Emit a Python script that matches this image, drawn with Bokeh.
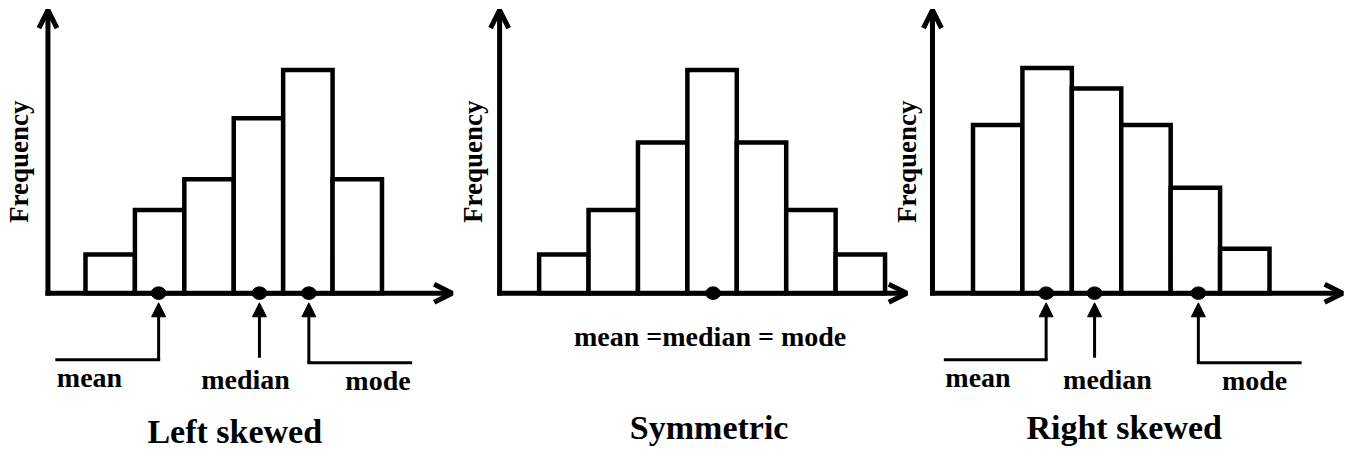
import numpy as np
from bokeh.plotting import figure
from bokeh.models import Range1d, Arrow, OpenHead, NormalHead
from bokeh.core.properties import value
from bokeh.embed import file_html
from bokeh.resources import INLINE

# ---------------- data ----------------
left_freq = [4.0, 8.6, 11.8, 18.1, 23.1, 11.8]
sym_freq = [4.0, 8.6, 15.6, 23.1, 15.6, 8.6, 4.0]
right_freq = [17.4, 23.3, 21.2, 17.4, 10.9, 4.6]

stat_names = ["mean", "median", "mode"]
left_stats = [1.98, 4.02, 5.02]
sym_stats = [4.02, 4.02, 4.02]
right_stats = [1.98, 2.96, 5.06]

titles = ["Left skewed", "Symmetric", "Right skewed"]
y_label = "Frequency"
sym_label = "mean =median = mode"

# ---------------- layout ----------------
FONT = value("Liberation Serif")
BLACK = "black"

p = figure(width=1354, height=452, x_range=Range1d(0, 27.4), y_range=Range1d(-16.5, 30.3),
           output_backend="svg", toolbar_location=None, min_border=0,
           x_axis_location=None, y_axis_location=None, outline_line_color=None)
p.xgrid.visible = False
p.ygrid.visible = False

LBL_SHIFT = 0.95   # baseline correction for 28px labels
TTL_SHIFT = 1.1    # baseline correction for titles

panels = [
    dict(off=1.22, freq=left_freq, stats=left_stats, title=titles[0], axis_x=-0.26, tip=7.92,
         title_x=3.52, title_y=-15.4,
         labels=[(-2.06, "left", -9.7), (-0.28, "center", -9.9), (2.06, "right", -10.0)],
         legs=[-2.06, 0, 2.06], stems=[-6.9, -6.7, -7.2], single=False),
    dict(off=10.4, freq=sym_freq, stats=sym_stats, title=titles[1], axis_x=-0.30, tip=7.94,
         title_x=3.94, title_y=-15.0, single=True),
    dict(off=19.18, freq=right_freq, stats=right_stats, title=titles[2], axis_x=-0.32, tip=7.98,
         title_x=3.56, title_y=-15.0,
         labels=[(-2.04, "left", -9.7), (0.26, "center", -9.9), (1.8, "right", -10.0)],
         legs=[-2.04, 0, 2.06], stems=[-6.9, -6.7, -7.2], single=False),
]

for pn in panels:
    off = pn["off"]
    freq = pn["freq"]
    n = len(freq)
    idx = np.arange(1, n + 1)
    p.quad(left=off + idx - 0.5, right=off + idx + 0.5, bottom=0, top=freq,
           fill_color="white", line_color=BLACK, line_width=4.5, line_join="miter")

    ax = off + pn["axis_x"]
    p.add_layout(Arrow(x_start=ax, y_start=-0.25, x_end=ax, y_end=29.3, line_width=5,
                       line_color=BLACK, end=OpenHead(size=18, line_width=5, line_color=BLACK)))
    p.add_layout(Arrow(x_start=ax - 0.05, y_start=0, x_end=off + pn["tip"], y_end=0, line_width=5,
                       line_color=BLACK, end=OpenHead(size=18, line_width=5, line_color=BLACK)))

    xs = sorted(set(off + s for s in pn["stats"]))
    p.ellipse(x=xs, y=[0] * len(xs), width=0.3, height=1.3, fill_color=BLACK, line_color=BLACK)

    p.text(x=[off - 0.84], y=[13.6], text=[y_label], angle=np.pi / 2, text_font=FONT,
           text_font_style="bold", text_font_size="27px", text_align="center",
           text_baseline="middle", text_color=BLACK)

    p.text(x=[off + pn["title_x"]], y=[pn["title_y"] + TTL_SHIFT], text=[pn["title"]], text_font=FONT,
           text_font_style="bold", text_font_size="34px", text_align="center",
           text_baseline="alphabetic", text_color=BLACK)

    if pn["single"]:
        p.text(x=[off + pn["stats"][0] - 0.06], y=[-5.4 + LBL_SHIFT], text=[sym_label], text_font=FONT,
               text_font_style="bold", text_font_size="28px", text_align="center",
               text_baseline="alphabetic", text_color=BLACK)
    else:
        for name, s, (dx, align, ty), leg, bot in zip(stat_names, pn["stats"], pn["labels"],
                                                       pn["legs"], pn["stems"]):
            x = off + s
            p.add_layout(Arrow(x_start=x, y_start=bot, x_end=x, y_end=-1.0, line_width=3,
                               line_color=BLACK,
                               end=NormalHead(size=14, fill_color=BLACK, line_color=BLACK, line_width=1)))
            if leg != 0:
                p.segment(x0=[x], y0=[bot], x1=[x + leg], y1=[bot], line_width=3,
                          line_color=BLACK, line_cap="square")
            p.text(x=[x + dx], y=[ty + LBL_SHIFT], text=[name], text_font=FONT, text_font_style="bold",
                   text_font_size="28px", text_align=align, text_baseline="alphabetic",
                   text_color=BLACK)

open("out.html", "w").write(file_html(p, INLINE))
